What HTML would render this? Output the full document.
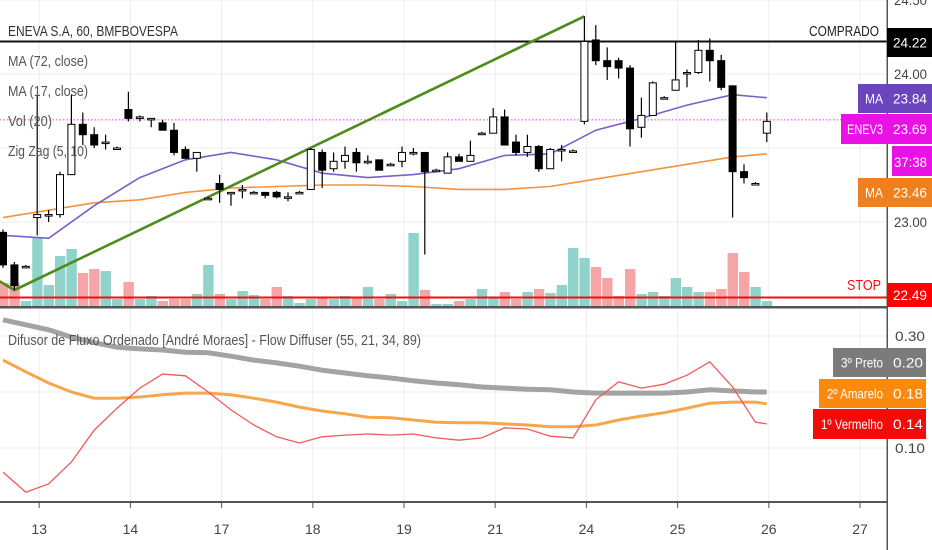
<!DOCTYPE html>
<html><head><meta charset="utf-8"><style>
html,body{margin:0;padding:0;background:#fff;}
svg{display:block;font-family:"Liberation Sans",sans-serif;}
</style></head><body>
<svg id="chart" width="932" height="550" viewBox="0 0 932 550" xmlns="http://www.w3.org/2000/svg">
<g id="grid"></g>
<g id="vol"></g>
<g id="lines"></g>
<g id="candles"></g>
<g id="osc"></g>
<g id="axes"></g>
</svg>
<script>
// ---- data ----
const dayLabels = ["13","14","17","18","19","21","24","25","26","27"];
const dayStartIdx = [3,11,19,27,35,43,51,59,67,75];
const priceTicks = [24.5,24.0,23.0];
const oscTicks = [0.30,0.10];
const opens = [22.93,22.71,22.70,23.03,23.05,23.05,23.32,23.66,23.59,23.54,23.50,23.76,23.71,23.70,23.67,23.62,23.49,23.43,23.16,23.26,23.20,23.22,23.20,23.20,23.20,23.17,23.20,23.22,23.47,23.36,23.41,23.47,23.41,23.42,23.39,23.41,23.47,23.47,23.35,23.33,23.44,23.41,23.60,23.60,23.71,23.54,23.47,23.51,23.36,23.49,23.48,23.68,24.23,24.09,24.09,24.04,23.64,23.72,23.84,23.89,24.01,24.01,24.16,24.09,23.92,23.34,23.26,23.60];
const highs = [22.95,22.73,22.71,23.86,23.08,23.34,23.86,23.74,23.64,23.59,23.51,23.88,23.72,23.70,23.69,23.67,23.51,23.47,23.17,23.32,23.20,23.25,23.21,23.20,23.21,23.20,23.21,23.50,23.49,23.47,23.51,23.50,23.45,23.42,23.40,23.51,23.50,23.47,23.36,23.47,23.46,23.55,23.61,23.77,23.76,23.59,23.59,23.52,23.50,23.52,23.49,24.39,24.33,24.18,24.11,24.06,23.84,23.95,23.85,24.22,24.03,24.23,24.24,24.13,23.92,23.39,23.27,23.74];
const lows = [22.69,22.54,22.69,22.91,23.00,23.03,23.32,23.52,23.50,23.49,23.49,23.68,23.68,23.64,23.62,23.45,23.43,23.34,23.15,23.13,23.11,23.16,23.19,23.16,23.16,23.14,23.19,23.22,23.23,23.34,23.36,23.34,23.39,23.35,23.38,23.37,23.45,22.78,23.34,23.33,23.41,23.41,23.59,23.60,23.52,23.45,23.44,23.34,23.36,23.41,23.47,23.66,24.06,23.96,23.97,23.51,23.57,23.72,23.83,23.89,23.91,24.00,23.95,23.89,23.03,23.26,23.25,23.54];
const closes = [22.71,22.57,22.70,23.05,23.05,23.32,23.66,23.59,23.52,23.54,23.50,23.70,23.71,23.70,23.62,23.47,23.43,23.47,23.16,23.22,23.20,23.22,23.20,23.18,23.17,23.17,23.20,23.49,23.35,23.41,23.45,23.40,23.41,23.35,23.39,23.47,23.47,23.34,23.35,23.44,23.41,23.45,23.60,23.71,23.52,23.47,23.51,23.36,23.49,23.49,23.48,24.22,24.09,24.05,24.04,23.63,23.72,23.94,23.84,23.96,24.01,24.16,24.09,23.91,23.34,23.30,23.26,23.68];
const volumes = [120,120,30,350,110,255,290,170,190,180,40,125,40,55,30,40,40,65,210,65,40,80,60,40,100,55,20,40,50,40,55,45,100,40,65,30,370,85,15,15,30,40,90,45,75,40,75,90,70,110,295,245,200,145,55,190,65,75,55,145,100,75,75,90,270,175,100,30];
const ma17Idx = [0,4,8,12,16,20,24,28,32,36,40,44,48,52,56,60,64,67];
const ma17 = [22.91,22.89,23.11,23.30,23.42,23.47,23.42,23.33,23.30,23.32,23.36,23.45,23.46,23.62,23.70,23.79,23.86,23.84];
const ma72 = [23.03,23.08,23.13,23.15,23.20,23.23,23.24,23.25,23.25,23.24,23.22,23.22,23.24,23.29,23.34,23.39,23.44,23.46];
const zigIdx = [-0.3,1,51];
const zigVal = [22.60,22.54,24.39];
const oscIdx = [0,2,4,6,8,10,12,14,16,18,20,22,24,26,28,30,32,34,36,38,40,42,44,46,48,50,52,54,56,58,60,62,64,66,67];
const oscRed = [.057,.021,.036,.075,.132,.171,.207,.232,.229,.2,.168,.141,.120,.109,.12,.123,.125,.123,.125,.118,.114,.118,.136,.134,.121,.118,.186,.218,.207,.214,.230,.254,.209,.146,.143];
const oscGray = [.329,.320,.311,.298,.288,.280,.277,.275,.271,.270,.264,.257,.252,.246,.239,.234,.229,.225,.220,.216,.213,.209,.207,.205,.204,.200,.198,.198,.198,.198,.200,.204,.202,.200,.200];
const oscOrange = [.257,.236,.216,.2,.189,.189,.191,.195,.198,.198,.195,.189,.182,.173,.166,.161,.155,.154,.15,.146,.145,.145,.143,.141,.138,.138,.141,.15,.157,.163,.171,.18,.182,.182,.179];
const levelBuy = 24.22, levelStop = 22.49, lastPrice = 23.69;

// ---- scales ----
const NS="http://www.w3.org/2000/svg";
const X = i => 3 + i*11.4;
const Y = p => 74 + (24 - p)*148;
const VY = v => 307 - v/5;
const OY = v => 504 - v*560;
const PW = 887;
function mk(parent, tag, attrs){const e=document.createElementNS(NS,tag);for(const k in attrs)e.setAttribute(k,attrs[k]);document.getElementById(parent).appendChild(e);return e;}

// grid
dayStartIdx.forEach((d,i)=>{const x=X(d)+2;
 const g=mk('grid','line',{x1:x,x2:x,y1:0,y2:502,stroke:'#e9edf2','stroke-width':1});
 
 
});
[24.5,24.0,23.5,23.0].forEach(p=>{const g=mk('grid','line',{x1:0,x2:PW,y1:Y(p),y2:Y(p),stroke:'#e9edf2'});
 
 
});
[0.3,0.2,0.1].forEach(v=>{const g=mk('grid','line',{x1:0,x2:PW,y1:OY(v),y2:OY(v),stroke:'#e9edf2'});
 
 
});

// volume
volumes.forEach((v,i)=>{const up=closes[i]>=opens[i];
 const r=mk('vol','rect',{x:X(i)-5,y:VY(v),width:10.4,height:307-VY(v),fill:up?'#8fd3cb':'#f5a5a5'});
 
 
});

// horizontal levels
let l=mk('lines','line',{x1:0,x2:PW,y1:Y(lastPrice),y2:Y(lastPrice),stroke:'#ea3ae8','stroke-dasharray':'1.5,2','stroke-width':1});


l=mk('lines','line',{x1:0,x2:PW,y1:Y(levelBuy),y2:Y(levelBuy),stroke:'#111','stroke-width':2});


l=mk('lines','line',{x1:0,x2:PW,y1:Y(levelStop),y2:Y(levelStop),stroke:'#f01010','stroke-width':2});



function poly(idx,vals,sx,sy){return idx.map((d,k)=>sx(d).toFixed(1)+','+sy(vals[k]).toFixed(1)).join(' ');}
l=mk('lines','polyline',{points:poly(ma17Idx,ma72,X,Y),fill:'none',stroke:'#f5923e','stroke-width':1.6});


l=mk('lines','polyline',{points:poly(ma17Idx,ma17,X,Y),fill:'none',stroke:'#7a5fc8','stroke-width':1.6});


l=mk('lines','polyline',{points:poly(zigIdx,zigVal,X,Y),fill:'none',stroke:'#4e8c1a','stroke-width':2.6});



// candles
opens.forEach((o,i)=>{const c=closes[i],x=X(i);
 const w=mk('candles','line',{x1:x,x2:x,y1:Y(highs[i]),y2:Y(lows[i]),stroke:'#000','stroke-width':1.2});
 
 
 const top=Y(Math.max(o,c)),h=Math.max(1.5,Math.abs(Y(o)-Y(c)));
 const b=mk('candles','rect',{x:x-3.5,y:top,width:7,height:h,fill:c>=o?'#fff':'#000',stroke:'#000','stroke-width':1});
 
 
});

// oscillator
l=mk('osc','polyline',{points:poly(oscIdx,oscGray,X,OY),fill:'none',stroke:'#a3a3a3','stroke-width':5});


l=mk('osc','polyline',{points:poly(oscIdx,oscOrange,X,OY),fill:'none',stroke:'#f8a64a','stroke-width':3});


l=mk('osc','polyline',{points:poly(oscIdx,oscRed,X,OY),fill:'none',stroke:'#f05a5a','stroke-width':1.3});



// axes
l=mk('axes','rect',{x:0,y:306,width:PW,height:2.5,fill:'#555'});


l=mk('axes','rect',{x:0,y:501,width:PW,height:2,fill:'#555'});


l=mk('axes','rect',{x:PW-0.5,y:0,width:1.5,height:550,fill:'#555'});


function txt(x,y,s,attrs){const t=mk('axes','text',Object.assign({x:x,y:y,'font-size':13,fill:'#444'},attrs||{}));t.textContent=s;return t;}
dayLabels.forEach((s,i)=>{const x=X(dayStartIdx[i])+2;
 const t=mk('axes','line',{x1:x,x2:x,y1:503,y2:508,stroke:'#555'});
 
 
 const e=txt(x,534,s,{'text-anchor':'middle','font-size':14});
 
 
});
priceTicks.forEach(p=>{const e=txt(894,Y(p)+5,p.toFixed(2),{'font-size':14,textLength:33,lengthAdjust:'spacingAndGlyphs'});
 
 
});
oscTicks.forEach(v=>{const e=txt(895,OY(v)+5,v.toFixed(2),{'font-size':14,textLength:30,lengthAdjust:'spacingAndGlyphs'});
 
 
});
function tag(x,y,w,h,fill,label,val,name,vlen,llen){
 const r=mk('axes','rect',{x:x,y:y,width:w,height:h,fill:fill});
 
 
 if(label){const t=txt(883,y+h/2+5,label,{fill:'#fff','font-size':14,'text-anchor':'end',textLength:llen,lengthAdjust:'spacingAndGlyphs'});
  
  }
 if(val){const t=txt(893,y+h/2+5,val,{fill:'#fff','font-size':14,textLength:vlen||34,lengthAdjust:'spacingAndGlyphs'});
  
  }
}
tag(887,28,45,29,'#000','', levelBuy.toFixed(2),'buy-price-label');
tag(858,84,74,29,'#6b45bd','MA','23.84','ma17-price-label',34,18);
tag(841,114,91,30,'#ea10e6','ENEV3',lastPrice.toFixed(2),'last-price-label',34,36);
tag(892,146,40,30,'#ea10e6','','','countdown-label');
tag(858,178,74,29,'#f0801e','MA','23.46','ma72-price-label',34,18);
tag(887,283,45,24,'#f00','',levelStop.toFixed(2),'stop-price-label');
tag(833,348,93,29,'#7b7b7b','3º Preto','0.20','preto-value-label',30,42);
tag(819,379,107,29,'#fb8a0c','2º Amarelo','0.18','amarelo-value-label',30,56);
tag(813,409,113,30,'#f50a0a','1º Vermelho','0.14','vermelho-value-label',30,62);
let e=txt(894,167,'37:38',{fill:'#fff','font-size':14,textLength:33,lengthAdjust:'spacingAndGlyphs'});


e=txt(879,36,'COMPRADO',{'text-anchor':'end','font-size':15,fill:'#222',textLength:70,lengthAdjust:'spacingAndGlyphs'});


e=txt(881,290,'STOP',{'text-anchor':'end','font-size':15,fill:'#f01010',textLength:34,lengthAdjust:'spacingAndGlyphs'});


const legends=[['ENEVA S.A, 60, BMFBOVESPA',8,36,170,'#333'],['MA (72, close)',8,66,80,'#555'],['MA (17, close)',8,96,80,'#555'],['Vol (20)',8,126,44,'#555'],['Zig Zag (5, 10)',8,156,80,'#555'],['Difusor de Fluxo Ordenado [André Moraes] - Flow Diffuser (55, 21, 34, 89)',8,345,413,'#555']];
legends.forEach(a=>{const t=txt(a[1],a[2],a[0],{'font-size':15,fill:a[4],textLength:a[3],lengthAdjust:'spacingAndGlyphs'});
 
 
});
</script>
</body></html>
